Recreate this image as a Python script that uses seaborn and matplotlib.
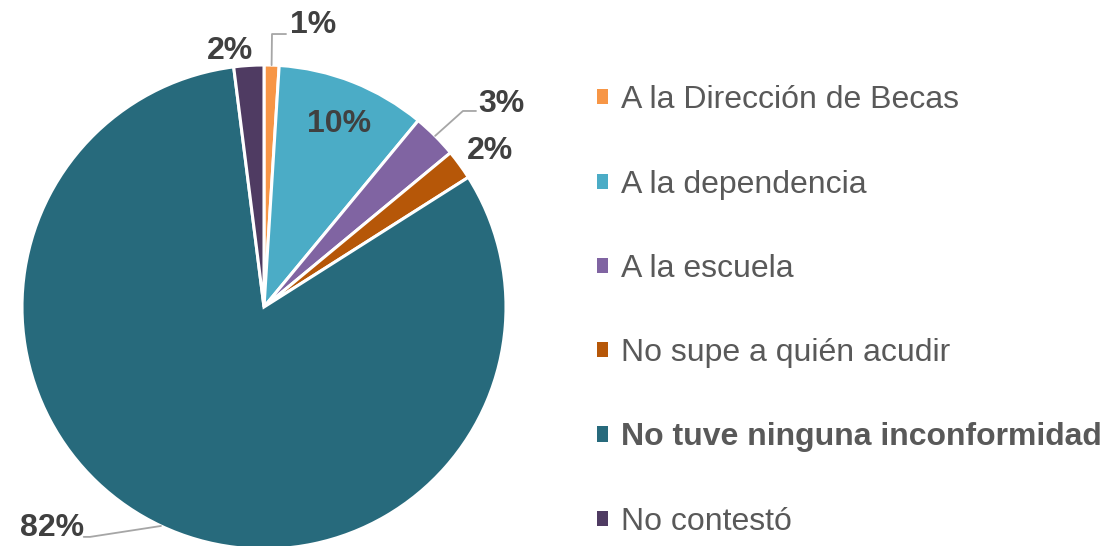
import numpy as np
import matplotlib
matplotlib.use("Agg")
import matplotlib.pyplot as plt
from matplotlib.patches import Patch
import seaborn as sns

# =========================================================
# Data
# =========================================================

categories = [
    "A la Dirección de Becas",
    "A la dependencia",
    "A la escuela",
    "No supe a quién acudir",
    "No tuve ninguna inconformidad",
    "No contestó",
]
percentages = [1, 10, 3, 2, 82, 2]
colors = ["#F79646", "#4BACC6", "#8064A2", "#B65708", "#276A7C", "#4F3B62"]

# label placement (data coords of the pie axes, radius = 1)
label_pos = [(0.205, 1.167), (0.31, 0.758), (0.98, 0.84), (0.935, 0.645), (-0.875, -0.912), (-0.14, 1.058)]
# leader lines: elbow point and end point, None = no leader
leader = [((0.033, 1.128), (0.091, 1.128)), None, ((0.822, 0.81), (0.876, 0.81)),
          None, ((-0.719, -0.950), (-0.745, -0.950)), None]

# =========================================================
# Plot
# =========================================================

sns.set_theme(style="white")
plt.rcParams["font.family"] = ["Liberation Sans", "DejaVu Sans"]

W, H = 1107, 546
fig = plt.figure(figsize=(W / 100, H / 100), dpi=100)

cx, cy, r = 264, 307, 242
ax = fig.add_axes([(cx - r) / W, (H - cy - r) / H, 2 * r / W, 2 * r / H])

palette = sns.color_palette(colors)
wedges, _ = ax.pie(
    percentages,
    colors=palette,
    startangle=90,
    counterclock=False,
    radius=1,
    wedgeprops={"edgecolor": "white", "linewidth": 2.2},
)
ax.set_xlim(-1, 1)
ax.set_ylim(-1, 1)
ax.set_aspect("equal")
ax.axis("off")

for w, val, pos, ld in zip(wedges, percentages, label_pos, leader):
    ax.text(pos[0], pos[1], f"{val}%", ha="center", va="center",
            fontsize=23, fontweight="bold", color="#404040", clip_on=False)
    if ld is not None:
        mid = np.deg2rad((w.theta1 + w.theta2) / 2)
        xs = [np.cos(mid), ld[0][0], ld[1][0]]
        ys = [np.sin(mid), ld[0][1], ld[1][1]]
        ax.plot(xs, ys, color="#A6A6A6", linewidth=1.3, clip_on=False)

handles = [Patch(facecolor=c, edgecolor="none") for c in palette]
leg = fig.legend(
    handles, categories,
    loc="center left",
    bbox_to_anchor=(597 / W, 1 - 311 / H),
    frameon=False,
    fontsize=23,
    handlelength=0.35,
    handleheight=0.35,
    handletextpad=0.4,
    labelspacing=1.7,
    borderpad=0,
    borderaxespad=0,
)
for t in leg.get_texts():
    t.set_color("#595959")
leg.get_texts()[4].set_fontweight("bold")

fig.savefig("out.png", dpi=100)
